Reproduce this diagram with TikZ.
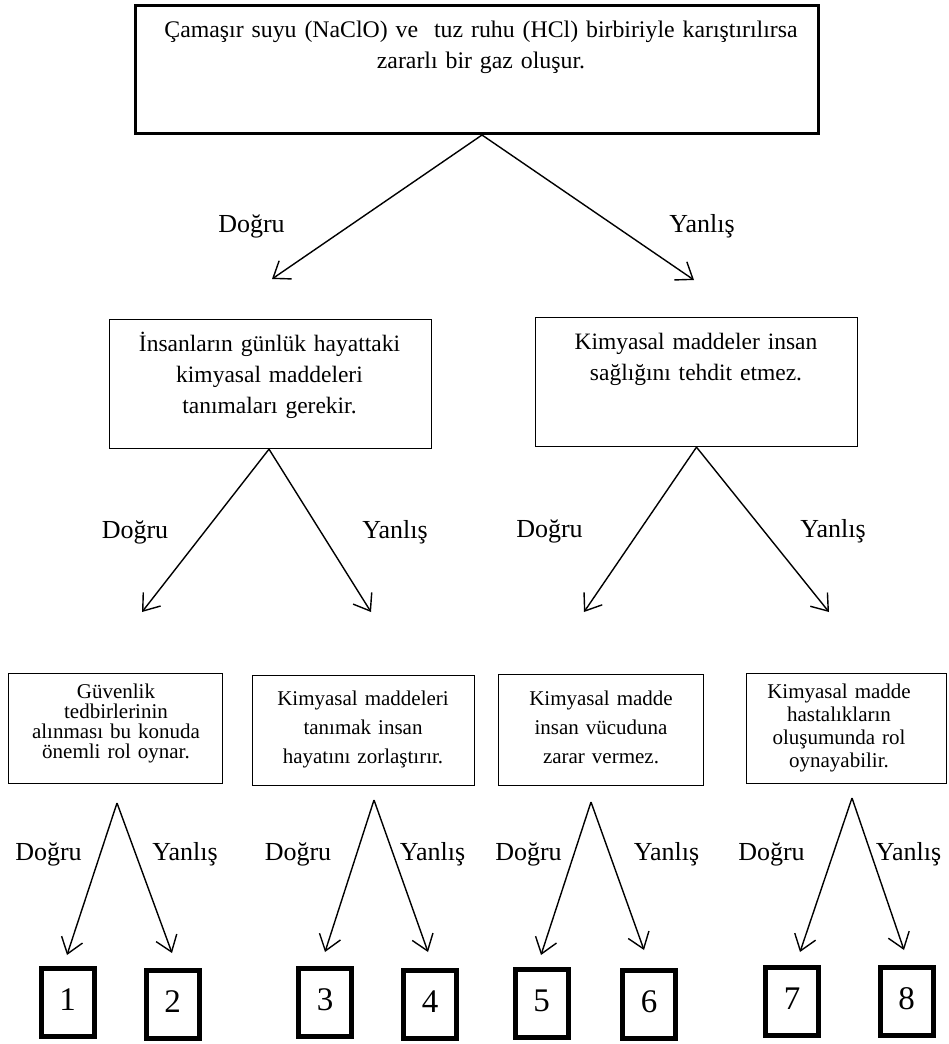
\documentclass[tikz,border=0pt]{standalone}
\usepackage{fontspec}
\setmainfont{Liberation Serif}
\usetikzlibrary{arrows.meta}
\tikzset{
  topbox/.style={draw, line width=3pt, minimum width=683pt, minimum height=128pt, inner sep=0pt},
  qbox/.style={draw, line width=1.3pt, inner sep=0pt},
  numbox/.style={draw, line width=5pt, minimum width=53pt, minimum height=68pt, inner sep=0pt,
                 text height=23pt, text depth=7pt, font=\fontsize{33}{33}\selectfont},
  txt/.style={anchor=base, align=center, text width=#1, inner sep=0pt},
  lbl/.style={anchor=base, inner sep=0pt, font=\fontsize{26}{26}\selectfont},
  arr/.style={line width=1.4pt, -{Straight Barb[length=15pt,width=22pt]}},
}
\begin{document}
\begin{tikzpicture}[x=1pt,y=-1pt]
\useasboundingbox (0,0) rectangle (948,1044);

% ---------- question boxes ----------
\node[topbox] (q0) at (477,69.5) {};
\node[txt=680pt, font=\fontsize{23.8}{32}\selectfont] (q0t) at (481,37)
  {Çamaşır suyu (NaClO) ve\ \ tuz ruhu (HCl) birbiriyle karıştırılırsa\\zararlı bir gaz oluşur.};

\node[qbox, minimum width=322pt, minimum height=129pt] (q1) at (270.5,384) {};
\node[txt=320pt, font=\fontsize{23.5}{31}\selectfont] (q1t) at (269.5,351)
  {İnsanların günlük hayattaki\\kimyasal maddeleri\\tanımaları gerekir.};

\node[qbox, minimum width=322pt, minimum height=129pt] (q2) at (696.5,382) {};
\node[txt=320pt, font=\fontsize{23.5}{31}\selectfont] (q2t) at (696,349)
  {Kimyasal maddeler insan\\sağlığını tehdit etmez.};

\node[qbox, minimum width=214pt, minimum height=110pt] (q3) at (115.5,728.5) {};
\node[txt=210pt, font=\fontsize{21}{20}\selectfont] (q3t) at (116,698)
  {Güvenlik\\tedbirlerinin\\alınması bu konuda\\önemli rol oynar.};

\node[qbox, minimum width=222pt, minimum height=110pt] (q4) at (363.5,730.5) {};
\node[txt=218pt, font=\fontsize{21}{29}\selectfont] (q4t) at (363,705)
  {Kimyasal maddeleri\\tanımak insan\\hayatını zorlaştırır.};

\node[qbox, minimum width=205pt, minimum height=111pt] (q5) at (601,730) {};
\node[txt=200pt, font=\fontsize{21}{29}\selectfont] (q5t) at (601,705)
  {Kimyasal madde\\insan vücuduna\\zarar vermez.};

\node[qbox, minimum width=200pt, minimum height=110pt] (q6) at (846.5,728.5) {};
\node[txt=196pt, font=\fontsize{21}{23}\selectfont] (q6t) at (839,698)
  {Kimyasal madde\\hastalıkların\\oluşumunda rol\\oynayabilir.};

% ---------- outcome boxes ----------
\node[numbox] (n1) at (67.5,1002.5) {1};
\node[numbox] (n2) at (172.5,1004.5) {2};
\node[numbox] (n3) at (325,1002) {3};
\node[numbox] (n4) at (430,1004.5) {4};
\node[numbox] (n5) at (541.5,1003) {5};
\node[numbox] (n6) at (649,1004) {6};
\node[numbox] (n7) at (792,1001.5) {7};
\node[numbox] (n8) at (906.5,1001.5) {8};

% ---------- branch points and arrow ends ----------
\coordinate (o0) at ([xshift=5pt]q0.south);
\coordinate (e0a) at (272,279);
\coordinate (e0b) at (694,280);

\coordinate (o1) at ([xshift=-1.5pt]q1.south);
\coordinate (e1a) at (142,612);
\coordinate (e1b) at (371,612);

\coordinate (o2) at (q2.south);
\coordinate (e2a) at (584,612);
\coordinate (e2b) at (829,612);

\coordinate (o3) at (117,803);
\coordinate (e3a) at (67,955);
\coordinate (e3b) at (172,953);

\coordinate (o4) at (374,800);
\coordinate (e4a) at (325,952);
\coordinate (e4b) at (428,952);

\coordinate (o5) at (591,802);
\coordinate (e5a) at (541,955);
\coordinate (e5b) at (644,950);

\coordinate (o6) at (852,798);
\coordinate (e6a) at (800,952);
\coordinate (e6b) at (904,950);

% ---------- arrows ----------
\foreach \k in {0,...,6}{
  \draw[arr] (o\k) -- (e\k a);
  \draw[arr] (o\k) -- (e\k b);
}

% ---------- answer labels ----------
\node[lbl] (d0) at (251.5,232) {Doğru};
\node[lbl] (y0) at (702,232) {Yanlış};
\node[lbl] (d1) at (135,538) {Doğru};
\node[lbl] (y1) at (395,538) {Yanlış};
\node[lbl] (d2) at (549.5,537) {Doğru};
\node[lbl] (y2) at (833,537) {Yanlış};
\node[lbl] (d3) at (48.5,860) {Doğru};
\node[lbl] (y3) at (185,860) {Yanlış};
\node[lbl] (d4) at (298,860) {Doğru};
\node[lbl] (y4) at (432.5,860) {Yanlış};
\node[lbl] (d5) at (528.5,860) {Doğru};
\node[lbl] (y5) at (666.5,860) {Yanlış};
\node[lbl] (d6) at (771.5,860) {Doğru};
\node[lbl] (y6) at (908.5,860) {Yanlış};
\end{tikzpicture}
\end{document}
